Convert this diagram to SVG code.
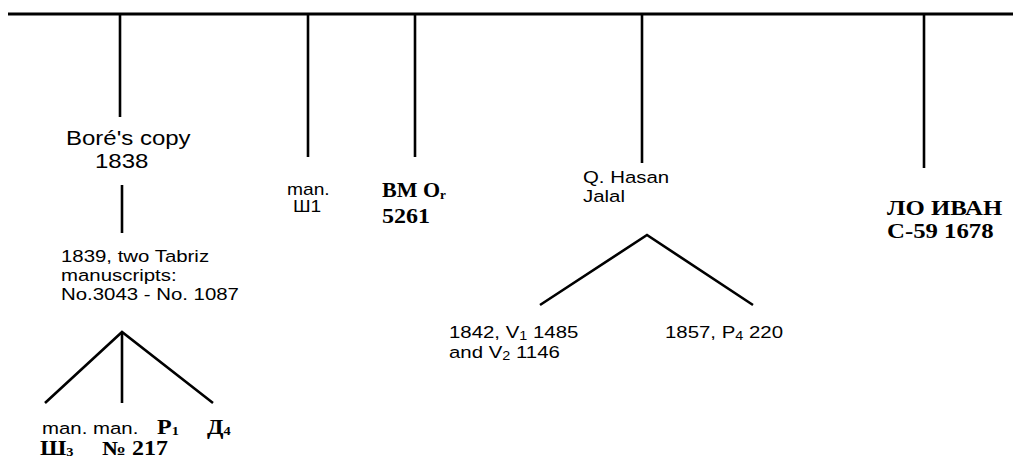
<svg xmlns="http://www.w3.org/2000/svg" width="1013" height="460" viewBox="0 0 1013 460">
<style>
.ln{stroke:#000;stroke-width:2.6;fill:none;stroke-linecap:butt}
.top{stroke:#000;stroke-width:3.2;fill:none}
.s{font-family:"Liberation Sans",Arial,sans-serif;fill:#000}
.r{font-family:"Liberation Serif","Times New Roman",serif;font-weight:bold;fill:#000}
</style>
<rect width="1013" height="460" fill="#fff"/>
<g id="connectors">
<line class="top" x1="8" y1="14" x2="1013" y2="14"/>
<line class="ln" x1="120" y1="14" x2="120" y2="117"/>
<line class="ln" x1="122" y1="185" x2="122" y2="233"/>
<line class="ln" x1="308" y1="14" x2="308" y2="157"/>
<line class="ln" x1="415" y1="14" x2="415" y2="157"/>
<line class="ln" x1="642" y1="14" x2="642" y2="163"/>
<line class="ln" x1="924" y1="14" x2="924" y2="168"/>
<polyline class="ln" points="45,403 122,332 213,403"/>
<line class="ln" x1="122" y1="332" x2="122" y2="403"/>
<polyline class="ln" points="540,305 647,235 753,305"/>
</g>
<g id="bore">
<text class="s" font-size="20" transform="translate(66,145) scale(1.2,1)">Boré's copy</text>
<text class="s" font-size="20" transform="translate(95,168) scale(1.2,1)">1838</text>
</g>
<g id="tabriz">
<text class="s" font-size="17" transform="translate(61,262) scale(1.2,1)">1839, two Tabriz</text>
<text class="s" font-size="17" transform="translate(61,281) scale(1.2,1)">manuscripts:</text>
<text class="s" font-size="17" transform="translate(61,300) scale(1.2,1)">No.3043 - No. 1087</text>
</g>
<g id="leaves-left">
<text class="s" font-size="17" transform="translate(42,434) scale(1.2,1)">man. man.</text>
<text class="r" font-size="20" transform="translate(157,434) scale(1.2,1)">P<tspan font-size="12" dy="1">1</tspan></text>
<text class="r" font-size="20" transform="translate(207,434) scale(1.2,1)">Д<tspan font-size="12" dy="1">4</tspan></text>
<text class="r" font-size="20" transform="translate(40,455) scale(1.2,1)">Ш<tspan font-size="12" dy="1">3</tspan></text>
<text class="r" font-size="20" transform="translate(102,455) scale(1.2,1)">№ 217</text>
</g>
<g id="man-sh1">
<text class="s" font-size="16" transform="translate(287,195) scale(1.2,1)">man.</text>
<text class="s" font-size="16" transform="translate(293,212) scale(1.2,1)">Ш1</text>
</g>
<g id="bm">
<text class="r" font-size="20" transform="translate(382,197) scale(1.1,1)">BM O<tspan font-size="12" dy="2">r</tspan></text>
<text class="r" font-size="20" transform="translate(382,223) scale(1.2,1)">5261</text>
</g>
<g id="hasan">
<text class="s" font-size="17" transform="translate(583,183) scale(1.2,1)">Q. Hasan</text>
<text class="s" font-size="17" transform="translate(583,202) scale(1.2,1)">Jalal</text>
</g>
<g id="v-leaf">
<text class="s" font-size="17" transform="translate(449,338) scale(1.2,1)">1842, V<tspan font-size="12" dy="2">1</tspan><tspan dy="-2"> 1485</tspan></text>
<text class="s" font-size="17" transform="translate(449,358) scale(1.2,1)">and V<tspan font-size="12" dy="2">2</tspan><tspan dy="-2"> 1146</tspan></text>
</g>
<g id="p-leaf">
<text class="s" font-size="17" transform="translate(665,338) scale(1.2,1)">1857, P<tspan font-size="12" dy="2">4</tspan><tspan dy="-2"> 220</tspan></text>
</g>
<g id="ivan">
<text class="r" font-size="21" transform="translate(887,215) scale(1.18,1)">ЛО ИВАН</text>
<text class="r" font-size="21" transform="translate(887,238) scale(1.18,1)">С-59 1678</text>
</g>
</svg>
